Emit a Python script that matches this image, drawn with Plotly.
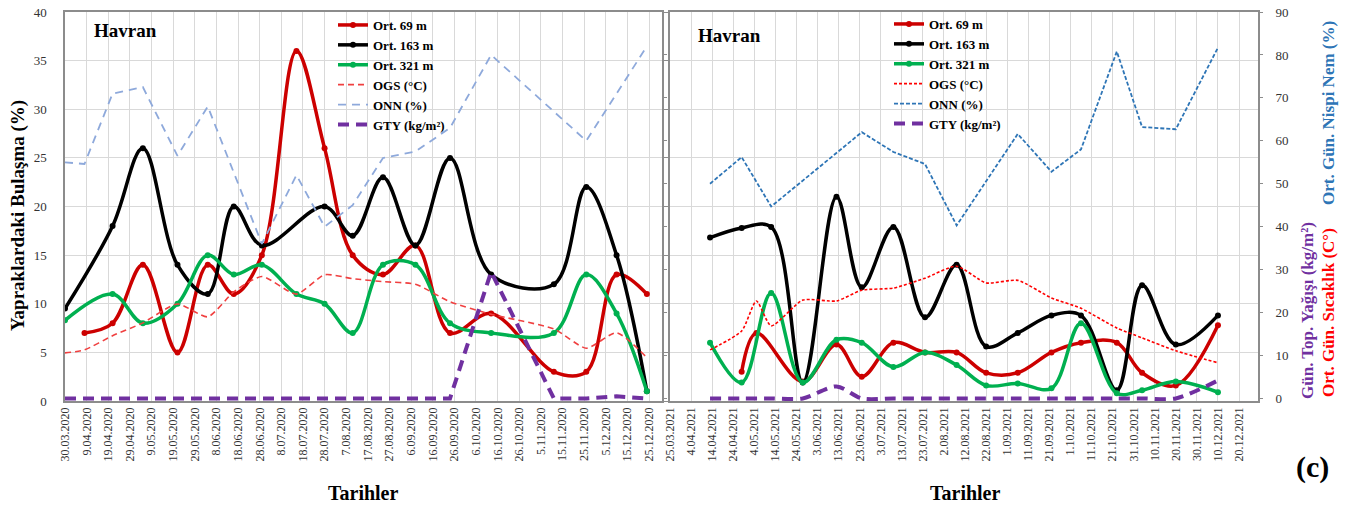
import plotly.graph_objects as go
from datetime import datetime

# ---------------- data ----------------
left_tick_labels = ["30.03.2020", "9.04.2020", "19.04.2020", "29.04.2020", "9.05.2020", "19.05.2020",
                    "29.05.2020", "8.06.2020", "18.06.2020", "28.06.2020", "8.07.2020", "18.07.2020",
                    "28.07.2020", "7.08.2020", "17.08.2020", "27.08.2020", "6.09.2020", "16.09.2020",
                    "26.09.2020", "6.10.2020", "16.10.2020", "26.10.2020", "5.11.2020", "15.11.2020",
                    "25.11.2020", "5.12.2020", "15.12.2020", "25.12.2020"]
right_tick_labels = ["25.03.2021", "4.04.2021", "14.04.2021", "24.04.2021", "4.05.2021", "14.05.2021",
                     "24.05.2021", "3.06.2021", "13.06.2021", "23.06.2021", "3.07.2021", "13.07.2021",
                     "23.07.2021", "2.08.2021", "12.08.2021", "22.08.2021", "1.09.2021", "11.09.2021",
                     "21.09.2021", "1.10.2021", "11.10.2021", "21.10.2021", "31.10.2021", "10.11.2021",
                     "20.11.2021", "30.11.2021", "10.12.2021", "20.12.2021"]

left_dates = ["30.03.2020", "08.04.2020", "21.04.2020", "05.05.2020", "21.05.2020", "04.06.2020",
              "16.06.2020", "29.06.2020", "15.07.2020", "28.07.2020", "10.08.2020", "24.08.2020",
              "08.09.2020", "24.09.2020", "13.10.2020", "11.11.2020", "26.11.2020", "10.12.2020",
              "24.12.2020"]
left_ort69 = [None, 7, 8, 14, 5, 14, 11, 15, 36, 26, 15, 13, 16, 7, 9, 3, 3, 13, 11]
left_ort163 = [9.5, None, 18, 26, 14, 11, 20, 16, None, 20, 17, 23, 16, 25, 13, 12, 22, 15, 1]
left_ort321 = [8.3, None, 11, 8, 10, 15, 13, 14, 11, 10, 7, 14, 14, 8, 7, 7, 13, 9, 1]
left_ogs = [10.6, 11.3, 14.6, 17.6, 22, 19, 24.8, 28.4, 24.3, 28.8, 27.9, 27.2, 26.6, 22.5, 19.6,
            16.2, 11.7, 15.3, 9.5]
left_onn = [55, 54.6, 71, 72.5, 56.5, 68, None, 36, 52, 40, 45, 56, 57.5, 63, 80, None, 60, None, 82]
left_gty = [0, 0, 0, 0, 0, 0, 0, 0, 0, 0, 0, 0, 0, 0, 29.5, 0, 0, 0.5, 0]

right_dates = ["13.04.2021", "28.04.2021", "05.05.2021", "12.05.2021", "27.05.2021", "12.06.2021",
               "24.06.2021", "09.07.2021", "24.07.2021", "08.08.2021", "22.08.2021", "06.09.2021",
               "22.09.2021", "06.10.2021", "23.10.2021", "04.11.2021", "20.11.2021", "10.12.2021"]
right_ort69 = [None, 3, 7, None, 2, 5.8, 2.5, 6, 5, 5, 2.9, 2.9, 5, 6, 6, 2.9, 1.6, 7.8]
right_ort163 = [16.8, 17.8, None, 17.9, 1.9, 21, 11.7, 17.9, 8.6, 14, 5.6, 7, 8.8, 8.8, 1.1, 11.9, 5.8, 8.8]
right_ort321 = [6, 1.9, None, 11.1, 1.9, 6.3, 6, 3.5, 5, 3.7, 1.6, 1.8, 1.3, 8, 0.8, 1.1, 2, 0.9]
right_ogs = [11.3, 15.7, 22.7, 16.9, 22.9, 22.7, 25.2, 25.7, 28, 30.8, 26.9, 27.5, 23.4, 21, 16.4,
             14.1, 11.1, 8.3]
right_onn = [50, 56.2, None, 44.7, None, None, 62, 57.4, 54.6, 40.3, None, 61.6, 52.8, 58, 80.8,
             63.2, 62.7, 81.7]
right_gty = [0, 0, None, 0, 0, 2.8, 0, 0, 0, 0, 0, 0, 0, 0, 0, 0, 0, 4.2]


def iso(s):
    return datetime.strptime(s, "%d.%m.%Y").strftime("%Y-%m-%d")


# ---------------- layout helpers ----------------
W, H = 1349, 506
SERIF = "Liberation Serif, Times New Roman, serif"
GRID = "#D9D9D9"
FRAME = "#8C8C8C"


def fx(p):
    return p / W


def fy(p):
    return 1 - p / H


LX = [fx(65), fx(662)]
RX = [fx(670), fx(1258)]
YD = [fy(401), fy(12)]

RED, BLACK, GREEN = "#CC0000", "#000000", "#00B050"
PURPLE = "#7030A0"

fig = go.Figure()


def add_panel(dates, r, b, g, ogs, onn, gty, xa, ya, ya2, leg, onn_color, onn_dash, ogs_dash, ogs_color,
              gty_shape):
    x = [iso(d) for d in dates]
    for name, vals, col in (("Ort. 69 m", r, RED), ("Ort. 163 m", b, BLACK), ("Ort. 321 m", g, GREEN)):
        fig.add_trace(go.Scatter(
            x=x, y=vals, name=name, mode="lines+markers", connectgaps=True,
            line=dict(color=col, width=3.5, shape="spline", smoothing=1.0),
            marker=dict(color=col, size=6), xaxis=xa, yaxis=ya, legend=leg))
    fig.add_trace(go.Scatter(
        x=x, y=ogs, name="OGS (°C)", mode="lines", connectgaps=True,
        line=dict(color=ogs_color, width=1.6, dash=ogs_dash, shape="spline", smoothing=0.6),
        xaxis=xa, yaxis=ya2, legend=leg))
    fig.add_trace(go.Scatter(
        x=x, y=onn, name="ONN (%)", mode="lines", connectgaps=True,
        line=dict(color=onn_color, width=1.8, dash=onn_dash),
        xaxis=xa, yaxis=ya2, legend=leg))
    fig.add_trace(go.Scatter(
        x=x, y=gty, name="GTY (kg/m²)", mode="lines", connectgaps=True,
        line=dict(color=PURPLE, width=4, dash="11px,7px", shape=gty_shape, smoothing=0.8),
        xaxis=xa, yaxis=ya2, legend=leg))


add_panel(left_dates, left_ort69, left_ort163, left_ort321, left_ogs, left_onn, left_gty,
          "x", "y", "y2", "legend", "#8EA9DB", "8px,6px", "6px,4px", "#F04040", "linear")
add_panel(right_dates, right_ort69, right_ort163, right_ort321, right_ogs, right_onn, right_gty,
          "x2", "y3", "y4", "legend2", "#2E75B6", "4px,2px", "3px,2px", "#FF0000", "spline")

xcommon = dict(type="date", tickangle=-90, tickfont=dict(family=SERIF, size=12, color="#333333"),
               showgrid=True, gridcolor=GRID, gridwidth=1, showline=True, linecolor=FRAME,
               linewidth=1.5, mirror=True, ticks="", automargin=False, zeroline=False)

legend_font = dict(family=SERIF, size=13, color="black", weight="bold")

fig.update_layout(
    width=W, height=H,
    margin=dict(l=0, r=0, t=0, b=0),
    paper_bgcolor="white", plot_bgcolor="white",
    font=dict(family=SERIF, color="black"),
    xaxis=dict(domain=LX, anchor="y", range=["2020-03-30", "2020-12-31"],
               tickvals=[iso(t) for t in left_tick_labels], ticktext=left_tick_labels, **xcommon),
    xaxis2=dict(domain=RX, anchor="y3", range=["2021-03-25", "2021-12-29"],
                tickvals=[iso(t) for t in right_tick_labels], ticktext=right_tick_labels, **xcommon),
    yaxis=dict(domain=YD, anchor="x", range=[0, 40], dtick=5, tick0=0,
               tickfont=dict(family=SERIF, size=13, color="#333333"),
               showgrid=True, gridcolor=GRID, showline=True, linecolor=FRAME, linewidth=1.5,
               mirror=True, ticks="", ticklabelstandoff=14, zeroline=False, automargin=False),
    yaxis2=dict(overlaying="y", anchor="x", side="right", range=[-0.6, 90], dtick=10, tick0=0,
                showticklabels=False, ticks="outside", ticklen=4, tickcolor=FRAME,
                showgrid=False, showline=False, zeroline=False, automargin=False),
    yaxis3=dict(domain=YD, anchor="x2", range=[0, 40], dtick=5, tick0=0, showticklabels=False,
                showgrid=True, gridcolor=GRID, showline=True, linecolor=FRAME, linewidth=1.5,
                mirror=True, ticks="outside", ticklen=4, tickcolor=FRAME, zeroline=False,
                automargin=False),
    yaxis4=dict(overlaying="y3", anchor="x2", side="right", range=[-0.6, 90], dtick=10, tick0=0,
                tickfont=dict(family=SERIF, size=13, color="#333333"),
                ticks="outside", ticklen=4, tickcolor=FRAME, ticklabelstandoff=10,
                showgrid=False, showline=False, zeroline=False, automargin=False),
    legend=dict(x=fx(333), y=fy(10), xanchor="left", yanchor="top", bgcolor="rgba(0,0,0,0)",
                font=legend_font, itemwidth=30, tracegroupgap=0),
    legend2=dict(x=fx(889), y=fy(9), xanchor="left", yanchor="top", bgcolor="rgba(0,0,0,0)",
                 font=legend_font, itemwidth=30, tracegroupgap=0),
    showlegend=True,
)


def note(text, x, y, size, color="black", angle=0, xanchor="center"):
    fig.add_annotation(text=text, x=fx(x), y=fy(y), xref="paper", yref="paper", showarrow=False,
                       textangle=angle, xanchor=xanchor, yanchor="middle",
                       font=dict(family=SERIF, size=size, color=color))


note("<b>Havran</b>", 92, 31, 19, xanchor="left")
note("<b>Havran</b>", 696, 35, 19, xanchor="left")
note("<b>Yapraklardaki Bulaşma (%)</b>", 18, 216, 19, angle=-90)
note("<b>Tarihler</b>", 363, 493, 20)
note("<b>Tarihler</b>", 965, 493, 20)
note("<b>Gün. Top. Yağışı (kg/m²)</b>", 1307, 311, 17, color=PURPLE, angle=-90)
note("<b>Ort. Gün. Sıcaklık (C°)</b>", 1328, 313, 17, color="#FF0000", angle=-90)
note("<b>Ort. Gün. Nispi Nem (%)</b>", 1328, 113, 17, color="#2E75B6", angle=-90)
note("<b>(c)</b>", 1312, 467, 30)

fig.write_html("out.html", config={"displayModeBar": False},
               post_script="document.body.style.margin='0px';")
